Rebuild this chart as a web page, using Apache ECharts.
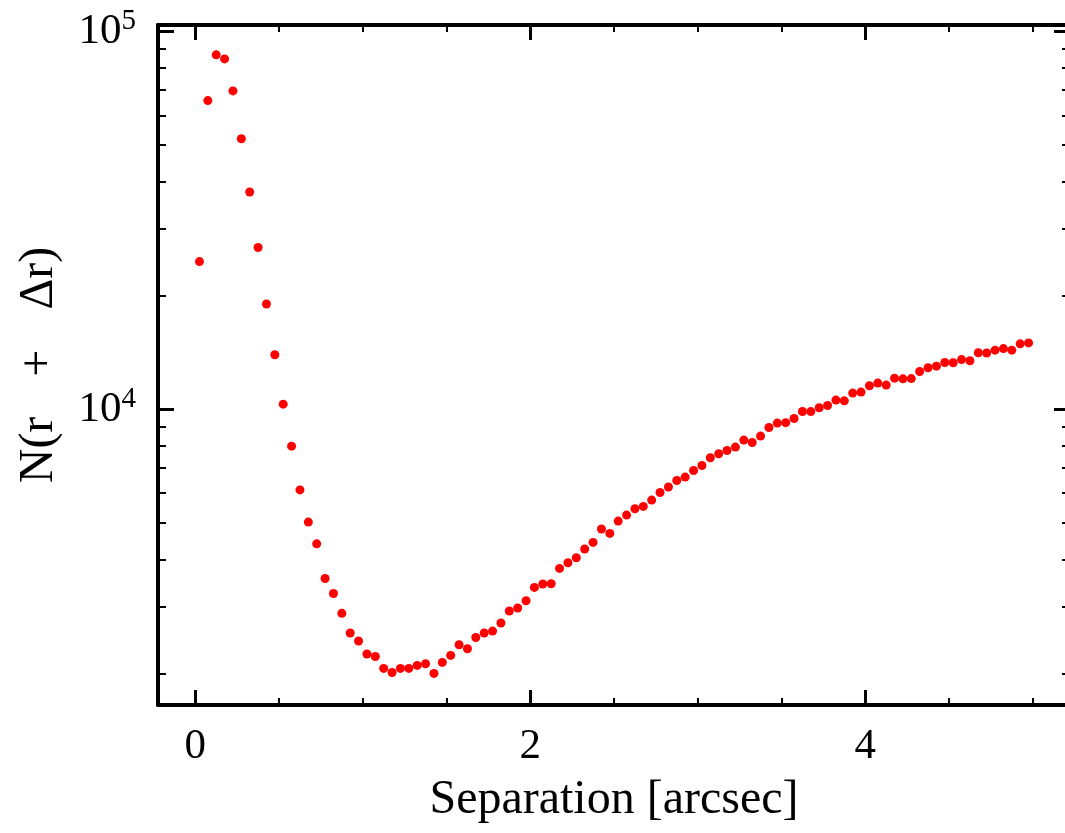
<!DOCTYPE html>
<html>
<head>
<meta charset="utf-8">
<script src="https://cdn.jsdelivr.net/npm/echarts@6/dist/echarts.min.js"></script>
<style>
  html, body { margin: 0; padding: 0; background: #fff; }
  #chart { width: 1065px; height: 833px; }
</style>
</head>
<body>
<div id="chart"></div>
<script>
// separation bins [arcsec]
var separation = [
  0.025, 0.075, 0.125, 0.175, 0.225, 0.275, 0.325, 0.375, 0.425, 0.475,
  0.525, 0.575, 0.625, 0.675, 0.725, 0.775, 0.825, 0.875, 0.925, 0.975,
  1.025, 1.075, 1.125, 1.175, 1.225, 1.275, 1.325, 1.375, 1.425, 1.475,
  1.525, 1.575, 1.625, 1.675, 1.725, 1.775, 1.825, 1.875, 1.925, 1.975,
  2.025, 2.075, 2.125, 2.175, 2.225, 2.275, 2.325, 2.375, 2.425, 2.475,
  2.525, 2.575, 2.625, 2.675, 2.725, 2.775, 2.825, 2.875, 2.925, 2.975,
  3.025, 3.075, 3.125, 3.175, 3.225, 3.275, 3.325, 3.375, 3.425, 3.475,
  3.525, 3.575, 3.625, 3.675, 3.725, 3.775, 3.825, 3.875, 3.925, 3.975,
  4.025, 4.075, 4.125, 4.175, 4.225, 4.275, 4.325, 4.375, 4.425, 4.475,
  4.525, 4.575, 4.625, 4.675, 4.725, 4.775, 4.825, 4.875, 4.925, 4.975
];

// N(r + dr) per bin
var counts = [
  24600, 65600, 86700, 84600, 69600, 52000, 37600, 26800, 19000, 13940,
  10320, 7990, 6120, 5030, 4406, 3567, 3255, 2884, 2558, 2437,
  2251, 2218, 2062, 2012, 2062, 2062, 2100, 2122, 2000, 2139,
  2232, 2382, 2325, 2490, 2558, 2589, 2719, 2925, 2980, 3115,
  3378, 3449, 3455, 3793, 3927, 4048, 4268, 4443, 4822, 4694,
  5060, 5249, 5455, 5533, 5752, 6025, 6227, 6481, 6617, 6888,
  7101, 7442, 7626, 7780, 7943, 8288, 8169, 8493, 8951, 9193,
  9220, 9456, 9867, 9860, 10092, 10235, 10576, 10530, 11040, 11105,
  11540, 11730, 11590, 12090, 12040, 12060, 12590, 12880, 13010, 13300,
  13280, 13540, 13440, 14110, 14090, 14340, 14480, 14340, 14900, 14990
];

var xMajorTicks = [0, 2, 4];
var xMinorTicks = [0.5, 1, 1.5, 2.5, 3, 3.5, 4.5, 5];
var yMajorTicks = [10000, 100000];
var yMinorTicks = [2000, 3000, 4000, 5000, 6000, 7000, 8000, 9000,
                   20000, 30000, 40000, 50000, 60000, 70000, 80000, 90000];

var xMin = -0.2225, xMax = 5.2225;
var yMin = 1650, yMax = 104000;

var font = '"Liberation Serif", "DejaVu Serif", serif';

var myChart = echarts.init(document.getElementById('chart'));

function logs(arr) {
  return arr.map(function (v) { return Math.log10(v); });
}

// tick-only helper axes (x)
function xTickAxis(pos, ticks, len, w, withLine) {
  return {
    type: 'value', position: pos, min: xMin, max: xMax,
    axisLine: { show: withLine, onZero: false, lineStyle: { color: '#000', width: 4 } },
    axisTick: { show: true, inside: true, length: len, customValues: ticks,
                lineStyle: { color: '#000', width: w } },
    axisLabel: { show: false },
    splitLine: { show: false }
  };
}

// tick-only helper axes (y, log10 space)
function yTickAxis(pos, ticks, len, w, withLine) {
  return {
    type: 'value', position: pos, min: Math.log10(yMin), max: Math.log10(yMax),
    axisLine: { show: withLine, onZero: false, lineStyle: { color: '#000', width: 4 } },
    axisTick: { show: true, inside: true, length: len, customValues: logs(ticks),
                lineStyle: { color: '#000', width: w } },
    axisLabel: { show: false },
    splitLine: { show: false }
  };
}

var data = separation.map(function (s, i) { return [s, counts[i]]; });

var yLabelAxis = yTickAxis('left', yMajorTicks, 16, 3, false);
yLabelAxis.axisLabel = {
  show: true,
  customValues: logs(yMajorTicks),
  margin: 22,
  formatter: function (v) { return '{b|10}{e|' + Math.round(v) + '}'; },
  rich: {
    b: { fontSize: 43, fontFamily: font, color: '#000' },
    e: { fontSize: 29, fontFamily: font, color: '#000', padding: [0, 0, 20, 0] }
  }
};

var option = {
  animation: false,
  backgroundColor: '#fff',
  grid: {
    left: 158, top: 25, width: 912, height: 680,
    containLabel: false, outerBoundsMode: 'none'
  },
  xAxis: [
    {
      type: 'value', position: 'bottom', min: xMin, max: xMax,
      axisLine: { show: true, onZero: false, lineStyle: { color: '#000', width: 4 } },
      axisTick: { show: true, inside: true, length: 15, customValues: xMajorTicks,
                  lineStyle: { color: '#000', width: 3 } },
      axisLabel: { show: true, customValues: xMajorTicks, margin: 20,
                   fontSize: 43, fontFamily: font, color: '#000' },
      splitLine: { show: false },
      name: 'Separation [arcsec]',
      nameLocation: 'middle',
      nameGap: 71,
      nameTextStyle: { fontSize: 48, fontFamily: font, color: '#000' }
    },
    xTickAxis('bottom', xMinorTicks, 7, 2, false),
    xTickAxis('top', xMajorTicks, 15, 3, true),
    xTickAxis('top', xMinorTicks, 7, 2, false)
  ],
  yAxis: [
    {
      type: 'log', logBase: 10, position: 'left', min: yMin, max: yMax,
      axisLine: { show: true, onZero: false, lineStyle: { color: '#000', width: 4 } },
      axisTick: { show: false },
      axisLabel: { show: false },
      splitLine: { show: false },
      name: 'N(r\u2002\u2004+\u2002\u2004\u0394r)',
      nameLocation: 'middle',
      nameGap: 95,
      nameTextStyle: { fontSize: 48, fontFamily: font, color: '#000' }
    },
    yLabelAxis,
    yTickAxis('left', yMinorTicks, 8, 2, false),
    yTickAxis('right', yMajorTicks, 16, 3, true),
    yTickAxis('right', yMinorTicks, 8, 2, false)
  ],
  series: [
    {
      type: 'scatter',
      xAxisIndex: 0,
      yAxisIndex: 0,
      symbol: 'circle',
      symbolSize: 9,
      itemStyle: { color: '#ff0000', opacity: 1 },
      data: data
    }
  ]
};

myChart.setOption(option);
</script>
</body>
</html>
